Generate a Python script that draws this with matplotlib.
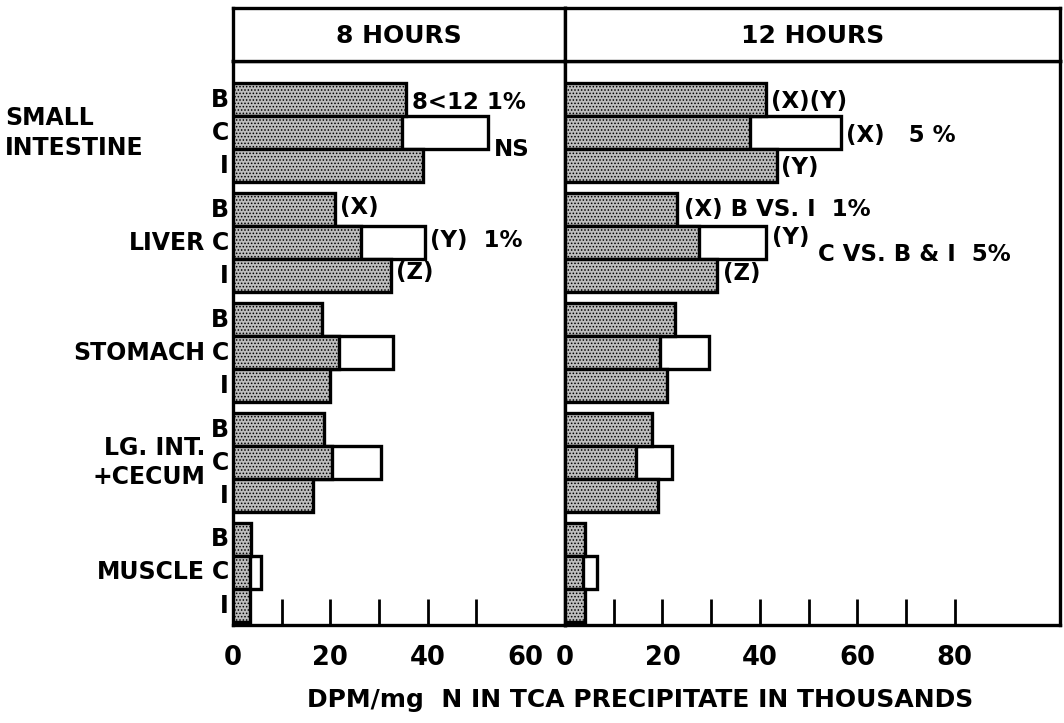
import numpy as np
import matplotlib
matplotlib.use("Agg")
import matplotlib.pyplot as plt
from matplotlib.transforms import blended_transform_factory

plt.rcParams['font.family'] = ['DejaVu Sans']
plt.rcParams['font.weight'] = 'bold'
plt.rcParams['hatch.linewidth'] = 0.7

# data (thousands DPM/mg N)
tissues = ["SMALL\nINTESTINE", "LIVER", "STOMACH", "LG. INT.\n+CECUM", "MUSCLE"]
diets = ["B", "C", "I"]
panels = ["8 HOURS", "12 HOURS"]

# shaded part of each bar, rows = tissue, cols = B, C, I
h8_shaded = [[35.6, 34.8, 39.0],
             [20.9, 26.2, 32.4],
             [18.3, 21.7, 19.9],
             [18.7, 20.3, 16.4],
             [3.8, 3.4, 3.5]]
h12_shaded = [[41.2, 37.9, 43.6],
              [23.0, 27.5, 31.3],
              [22.6, 19.5, 21.0],
              [17.9, 14.6, 19.0],
              [4.1, 3.7, 4.1]]
# total length of the C bar (white extension)
h8_c_total = [52.3, 39.5, 32.8, 30.3, 5.8]
h12_c_total = [56.7, 41.2, 29.6, 21.9, 6.5]

x_max = [68.2, 101.6]
tick_labels = [[0, 20, 40, 60], [0, 20, 40, 60, 80]]

# annotations: (text, x, tissue index, row offset)
notes_8 = [("8<12 1%", 36.7, 0, 0.1),
           ("NS", 53.5, 0, 1.5),
           ("(X)", 22.0, 1, -0.05),
           ("(Y)  1%", 40.5, 1, 0.95),
           ("(Z)", 33.4, 1, 1.9)]
notes_12 = [("(X)(Y)", 42.2, 0, 0.05),
            ("(X)   5 %", 57.6, 0, 1.1),
            ("(Y)", 44.4, 0, 2.05),
            ("(X) B VS. I  1%", 24.5, 1, 0.0),
            ("(Y)", 42.4, 1, 0.85),
            ("C VS. B & I  5%", 51.9, 1, 1.35),
            ("(Z)", 32.5, 1, 1.95)]

group_step = 3.33
shade_face = '#bdbdbd'

fig = plt.figure(figsize=(10.64, 7.23), dpi=100)

W, H = 1064, 723
def fx(px):
    return px / W

body_bottom = 1 - 625 / H
body_h = 564 / H
head_bottom = 1 - 61 / H
head_h = 53 / H
left_px = [233, 565]
width_px = [332, 495]

data = [(h8_shaded, h8_c_total, notes_8), (h12_shaded, h12_c_total, notes_12)]
axes = []
for k in range(2):
    ax = fig.add_axes([fx(left_px[k]), body_bottom, fx(width_px[k]), body_h])
    hax = fig.add_axes([fx(left_px[k]), head_bottom, fx(width_px[k]), head_h])
    axes.append(ax)
    shaded, c_total, notes = data[k]

    for g in range(len(tissues)):
        for j in range(3):
            y = g * group_step + j
            if j == 1:
                ax.barh(y, c_total[g], height=1.0, color='white',
                        edgecolor='black', linewidth=2.4, zorder=2)
            ax.barh(y, shaded[g][j], height=1.0, color=shade_face,
                    edgecolor='black', hatch='.....', linewidth=2.4, zorder=3)

    for text, x, g, off in notes:
        ax.text(x, g * group_step + off, text, fontsize=16.5,
                va='center', ha='left', zorder=4)

    ax.set_xlim(0, x_max[k])
    ax.set_ylim(len(tissues) * group_step - 0.75 + 0.01, -1.17)
    ax.set_yticks([])
    ax.set_xticks(np.arange(10, x_max[k] - 15, 10))
    ax.set_xticks([], minor=True)
    ax.tick_params(axis='x', direction='in', length=19, width=2, labelbottom=False)
    for s in ax.spines.values():
        s.set_linewidth(2.4)
    for t in tick_labels[k]:
        ax.text(t, -0.035, str(t), transform=blended_transform_factory(ax.transData, ax.transAxes),
                ha='center', va='top', fontsize=18.5)

    hax.set_xticks([])
    hax.set_yticks([])
    for s in hax.spines.values():
        s.set_linewidth(2.4)
    hax.text(0.5, 0.47, panels[k], ha='center', va='center', fontsize=18,
             transform=hax.transAxes)

# row labels and tissue names
tr = blended_transform_factory(fig.transFigure, axes[0].transData)
for g, name in enumerate(tissues):
    for j, d in enumerate(diets):
        axes[0].text(fx(229), g * group_step + j, d, transform=tr, ha='right',
                     va='center', fontsize=17)
    if g == 0:
        axes[0].text(fx(5), g * group_step + 1, name, transform=tr, ha='left',
                     va='center', fontsize=17, linespacing=1.3)
    else:
        axes[0].text(fx(205), g * group_step + 1, name, transform=tr, ha='right',
                     va='center', fontsize=17, linespacing=1.3)

fig.text(fx(640), 1 - 700 / H, "DPM/mg  N IN TCA PRECIPITATE IN THOUSANDS",
         ha='center', va='center', fontsize=18)

fig.savefig("out.png", dpi=100)
